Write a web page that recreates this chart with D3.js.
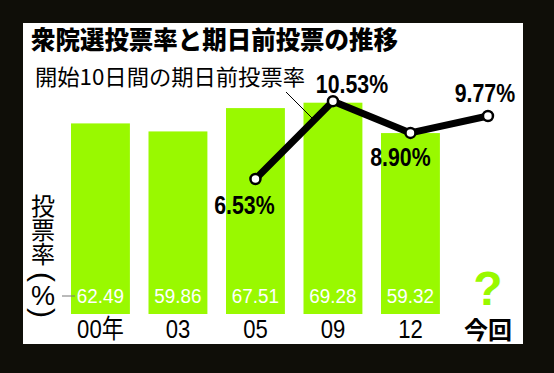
<!DOCTYPE html>
<html>
<head>
<meta charset="utf-8">
<script src="https://cdn.jsdelivr.net/npm/d3@7"></script>
<style>
  body { margin: 0; background: #0f0e08; }
  svg { display: block; }
</style>
</head>
<body>
<div id="chart"></div>
<script>
// Data
let years = ["00年", "03", "05", "09", "12", "今回"];
let turnout = [62.49, 59.86, 67.51, 69.28, 59.32, null];
let earlyYears = ["05", "09", "12", "今回"];
let earlyVote = [6.53, 10.53, 8.90, 9.77];

let svgWidth = 554;
let svgHeight = 373;

let svg = d3.select("#chart")
    .append("svg")
    .attr("width", svgWidth)
    .attr("height", svgHeight);

// black frame + white panel
svg.append("rect").attr("width", svgWidth).attr("height", svgHeight).attr("fill", "#0f0e08");
svg.append("rect")
    .attr("x", 23).attr("y", 23)
    .attr("width", 500).attr("height", 321)
    .attr("fill", "#fff");

let cjk = "'Noto Sans CJK JP', sans-serif";
let latin = "'Liberation Sans', 'Noto Sans CJK JP', sans-serif";
let green = "#99f900";

// Scales
let xScale = d3.scaleBand()
    .domain(years)
    .range([52.4, 536])
    .padding(0.24);

let yBar = d3.scaleLinear()
    .domain([0, 100])
    .range([314, 9]);

let yLine = d3.scaleLinear()
    .domain([0, 10])
    .range([306, 111.5]);

let mid = d => xScale(d) + xScale.bandwidth() / 2;

// Title
svg.append("text")
    .attr("x", 31).attr("y", 49)
    .attr("font-family", cjk)
    .attr("font-weight", 900)
    .attr("font-size", 25)
    .attr("textLength", 367)
    .attr("lengthAdjust", "spacingAndGlyphs")
    .text("衆院選投票率と期日前投票の推移");

svg.append("text")
    .attr("x", 35).attr("y", 85)
    .attr("font-family", cjk)
    .attr("font-size", 22)
    .attr("textLength", 270)
    .attr("lengthAdjust", "spacingAndGlyphs")
    .text("開始10日間の期日前投票率");

// Bars
let barData = years.map((y, i) => ({ year: y, value: turnout[i] })).filter(d => d.value !== null);

svg.selectAll(".bar")
    .data(barData)
    .enter()
    .append("rect")
    .attr("class", "bar")
    .attr("x", d => xScale(d.year))
    .attr("width", xScale.bandwidth())
    .attr("y", d => yBar(d.value))
    .attr("height", d => yBar(0) - yBar(d.value))
    .attr("fill", green);

// condensed look: scale text horizontally
svg.selectAll(".barLabel")
    .data(barData)
    .enter()
    .append("text")
    .attr("transform", d => `translate(${mid(d.year)},303) scale(0.9,1)`)
    .attr("text-anchor", "middle")
    .attr("font-family", latin)
    .attr("font-size", 21)
    .attr("fill", "#fff")
    .text(d => d.value.toFixed(2));

// x axis labels
svg.selectAll(".xLabel")
    .data(years)
    .enter()
    .append("text")
    .attr("transform", d => d === "今回" ? `translate(${mid(d)},339)` : `translate(${mid(d)},338) scale(0.85,1)`)
    .attr("text-anchor", "middle")
    .attr("font-family", d => d === "今回" ? cjk : latin)
    .attr("font-size", d => d === "今回" ? 24 : 26)
    .attr("font-weight", d => d === "今回" ? 700 : 400)
    .attr("fill", "#000")
    .text(d => d);

// question mark for this election
svg.append("text")
    .attr("x", mid("今回"))
    .attr("y", 305)
    .attr("text-anchor", "middle")
    .attr("font-family", latin)
    .attr("font-weight", 700)
    .attr("font-size", 48)
    .attr("fill", green)
    .text("?");

// y axis title (vertical)
svg.append("text")
    .attr("x", 43).attr("y", 194)
    .attr("font-family", cjk)
    .attr("font-size", 24)
    .style("writing-mode", "vertical-rl")
    .text("投票率");
svg.append("text")
    .attr("transform", "translate(43,277) rotate(90)")
    .attr("text-anchor", "middle")
    .attr("dy", "0.35em")
    .attr("font-family", latin)
    .attr("font-size", 30)
    .text("(");
svg.append("text")
    .attr("x", 43).attr("y", 305)
    .attr("text-anchor", "middle")
    .attr("font-family", latin)
    .attr("font-size", 27)
    .text("%");
svg.append("text")
    .attr("transform", "translate(43,313) rotate(90)")
    .attr("text-anchor", "middle")
    .attr("dy", "0.35em")
    .attr("font-family", latin)
    .attr("font-size", 30)
    .text(")");

svg.append("line")
    .attr("x1", 62).attr("x2", 75)
    .attr("y1", 296).attr("y2", 296)
    .attr("stroke", "#777")
    .attr("stroke-width", 1);

// Early vote line
let lineData = earlyYears.map((y, i) => ({ year: y, value: earlyVote[i] }));
let cx = d => mid(d.year);

let line = d3.line()
    .x(cx)
    .y(d => yLine(d.value));

// leader line from subtitle
svg.append("line")
    .attr("x1", 286).attr("y1", 92)
    .attr("x2", 313).attr("y2", 119)
    .attr("stroke", "#000")
    .attr("stroke-width", 1);

svg.append("path")
    .datum(lineData)
    .attr("d", line)
    .attr("fill", "none")
    .attr("stroke", "#000")
    .attr("stroke-width", 7)
    .attr("stroke-linejoin", "round");

svg.selectAll(".dot")
    .data(lineData)
    .enter()
    .append("circle")
    .attr("cx", cx)
    .attr("cy", d => yLine(d.value))
    .attr("r", 5)
    .attr("fill", "#fff")
    .attr("stroke", "#000")
    .attr("stroke-width", 2.5);

// label offsets from each point
let labelOffset = { "05": [-11, 35], "09": [19, -8], "12": [-10, 33], "今回": [-3, -14] };

svg.selectAll(".lineLabel")
    .data(lineData)
    .enter()
    .append("text")
    .attr("transform", d => `translate(${cx(d) + labelOffset[d.year][0]},${yLine(d.value) + labelOffset[d.year][1]}) scale(0.82,1)`)
    .attr("text-anchor", "middle")
    .attr("font-family", latin)
    .attr("font-weight", 700)
    .attr("font-size", 26)
    .attr("fill", "#000")
    .text(d => d.value.toFixed(2) + "%");
</script>
</body>
</html>
